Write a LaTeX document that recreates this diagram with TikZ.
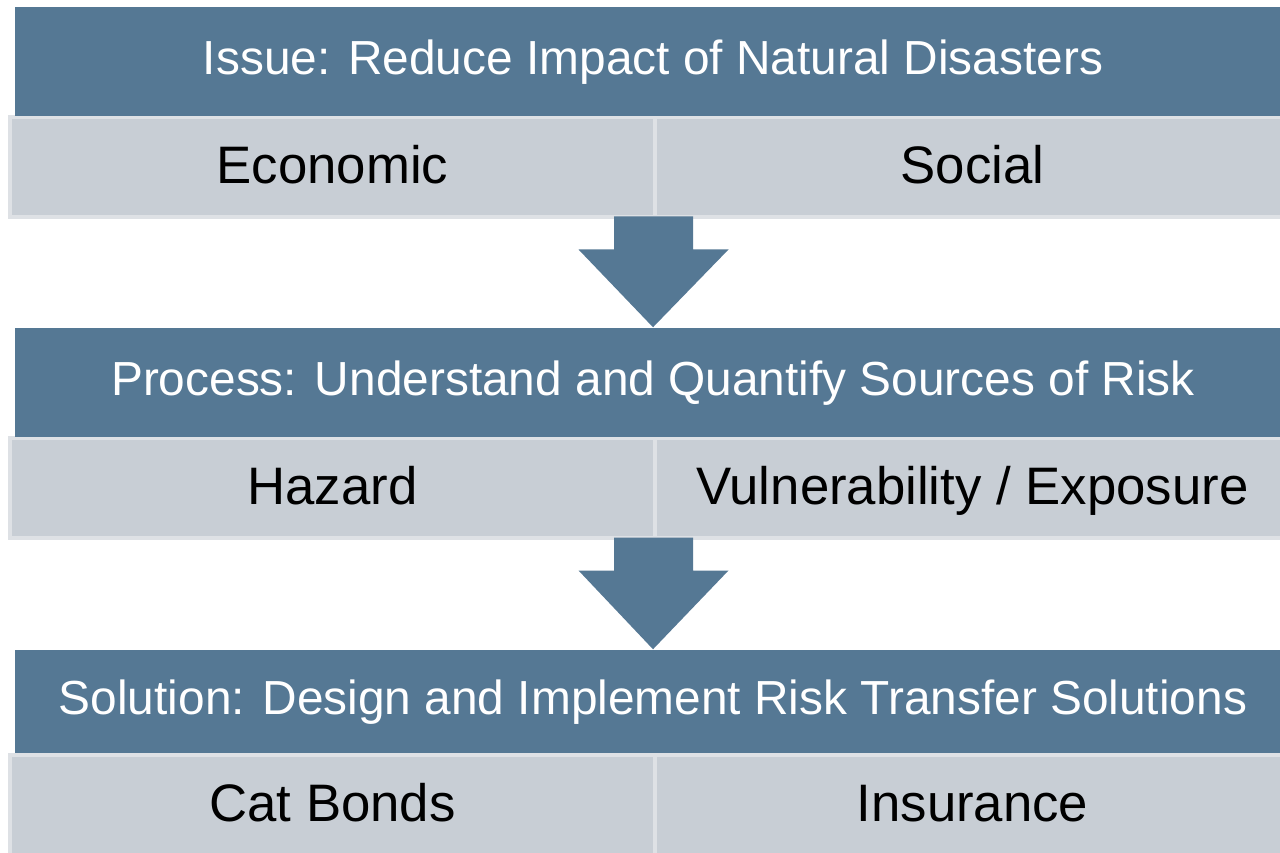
\documentclass[tikz,border=0pt]{standalone}
\usepackage{fontspec}
\setmainfont{Liberation Sans}
\usetikzlibrary{calc}
\definecolor{steel}{RGB}{85,120,148}
\definecolor{pale}{RGB}{200,206,213}
\definecolor{paleline}{RGB}{222,225,229}
\tikzstyle{kopf}=[rectangle,fill=steel,text=white,inner sep=0pt,minimum width=12.75cm,minimum height=1.09cm,text height=0.78em,text depth=0.06em,font=\fontsize{13.6}{16}\selectfont]
\tikzstyle{feld}=[rectangle,fill=pale,draw=paleline,line width=1.3pt,inner sep=0pt,minimum height=1cm,text height=0.98em,text depth=0.06em,font=\fontsize{15}{18}\selectfont]
% block arrow from a top point down to a tip
\newcommand{\pfeil}[2]{\fill[steel] ($(#1)+(-39.5,0)$) -- ($(#1)+(39.5,0)$) -- ($(#1)+(39.5,33)$) -- ($(#1)+(75,33)$) -- (#2) -- ($(#1)+(-75,33)$) -- ($(#1)+(-39.5,33)$) -- cycle;}

\begin{document}
\begin{tikzpicture}[x=0.01cm,y=-0.01cm]
    \useasboundingbox [fill=white] (0,0) rectangle (1280,852);
    % rows of cells
    \node [feld,minimum width=6.45cm] (econ)   at (332.5,167) {Economic};
    \node [feld,minimum width=6.35cm] (social) at (972.5,167) {Social};
    \node [feld,minimum width=6.45cm] (hazard) at (332.5,488) {Hazard};
    \node [feld,minimum width=6.35cm] (vuln)   at (972.5,488) {Vulnerability / Exposure};
    \node [feld,minimum width=6.45cm] (bonds)  at (332.5,805) {Cat Bonds};
    \node [feld,minimum width=6.35cm] (insur)  at (972.5,805) {Insurance};
    % headers
    \node [kopf] (issue)    at (653,61.5)  {Issue: Reduce Impact of Natural Disasters};
    \node [kopf] (process)  at (653,382.5) {Process: Understand and Quantify Sources of Risk};
    \node [kopf,minimum height=1.03cm] (solution) at (653,701.5) {Solution: Design and Implement Risk Transfer Solutions};
    % arrows between the stages
    \coordinate (a1) at (653.5,216.5);
    \coordinate (a2) at (653.5,537.5);
    \pfeil{a1}{process.north}
    \pfeil{a2}{solution.north}
\end{tikzpicture}
\end{document}
